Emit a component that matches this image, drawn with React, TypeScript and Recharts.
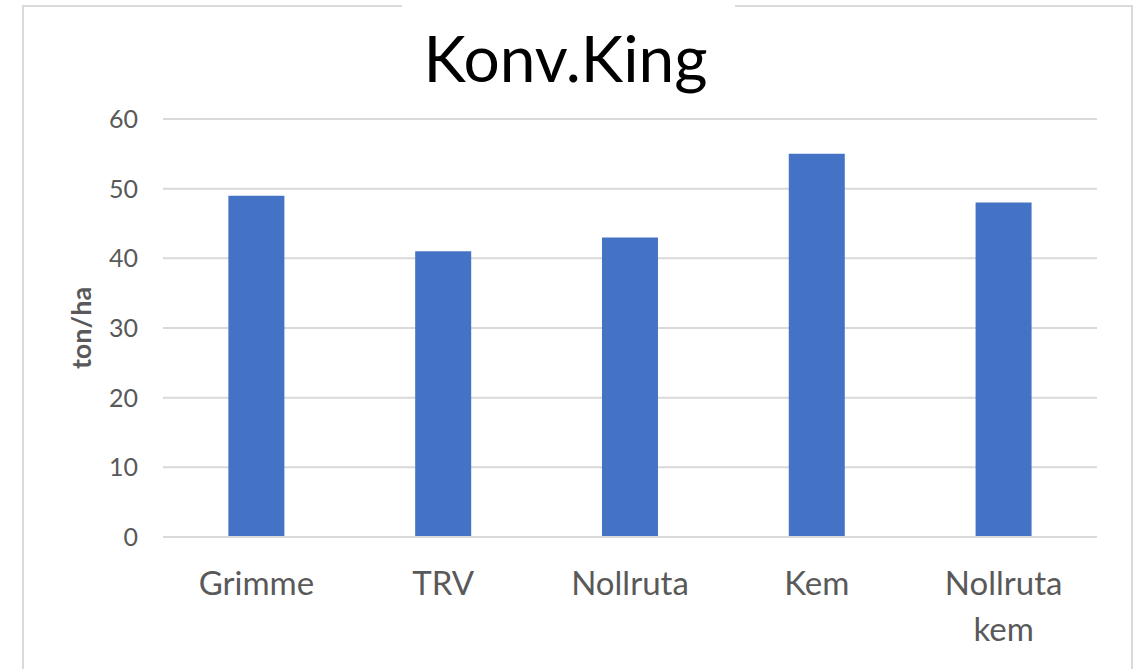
import { BarChart, Bar, XAxis, YAxis, CartesianGrid } from "recharts";

const categories = ["Grimme", "TRV", "Nollruta", "Kem", "Nollruta kem"];
const yields = [49, 41, 43, 55, 48];
const yTicks = [0, 10, 20, 30, 40, 50, 60];

const data = categories.map((name, i) => ({ name, value: yields[i] }));

const FONT = "Lato, 'Open Sans', sans-serif";

// category labels wrap onto a new line at each space, like Excel does for "Nollruta kem"
function CategoryTick(props: any) {
  const { x, y, payload } = props;
  const words = String(payload.value).split(" ");
  return (
    <text
      x={x}
      y={y + 52}
      textAnchor="middle"
      fontSize={33}
      fontFamily={FONT}
      fill="#595959"
    >
      {words.map((w, i) => (
        <tspan key={i} x={x} dy={i === 0 ? 0 : 46}>
          {w}
        </tspan>
      ))}
    </text>
  );
}

export default function App() {
  return (
    <div
      style={{
        position: "absolute",
        left: 0,
        top: 0,
        width: 1141,
        height: 669,
        background: "#fff",
        overflow: "hidden",
        fontFamily: FONT,
      }}
    >
      {/* chart frame, open at the bottom */}
      <div
        style={{
          position: "absolute",
          left: 22,
          top: 5,
          width: 1107,
          height: 700,
          border: "2px solid #d9d9d9",
        }}
      />
      <div
        style={{
          position: "absolute",
          left: 402,
          top: 0,
          width: 333,
          height: 12,
          background: "#fff",
        }}
      />
      <div
        style={{
          position: "absolute",
          left: 0,
          width: 1141,
          top: 18,
          textAlign: "center",
          fontSize: 64,
          lineHeight: "80px",
          color: "#000",
        }}
      >
        <span style={{ position: "relative", left: -5 }}>Konv.King</span>
      </div>
      <div style={{ position: "absolute", left: 0, top: 0 }}>
        <BarChart
          width={1141}
          height={669}
          data={data}
          margin={{ top: 119, right: 44, bottom: 32, left: 0 }}
          barCategoryGap="35%"
        >
          <CartesianGrid vertical={false} stroke="#d9d9d9" strokeWidth={2} />
          <XAxis
            dataKey="name"
            height={100}
            axisLine={{ stroke: "#d9d9d9", strokeWidth: 2 }}
            tickLine={false}
            tick={<CategoryTick />}
            tickMargin={0}
            interval={0}
          />
          <YAxis
            width={163}
            domain={[0, 60]}
            ticks={yTicks}
            axisLine={false}
            tickLine={false}
            tickMargin={19}
            tick={{ fontSize: 25, fill: "#595959", fontFamily: FONT }}
            label={{
              value: "ton/ha",
              angle: -90,
              position: "insideLeft",
              offset: 81,
              style: {
                fontSize: 27,
                fontWeight: 700,
                fill: "#595959",
                fontFamily: FONT,
                textAnchor: "middle",
              },
            }}
          />
          <Bar dataKey="value" fill="#4472c4" isAnimationActive={false} />
        </BarChart>
      </div>
    </div>
  );
}
